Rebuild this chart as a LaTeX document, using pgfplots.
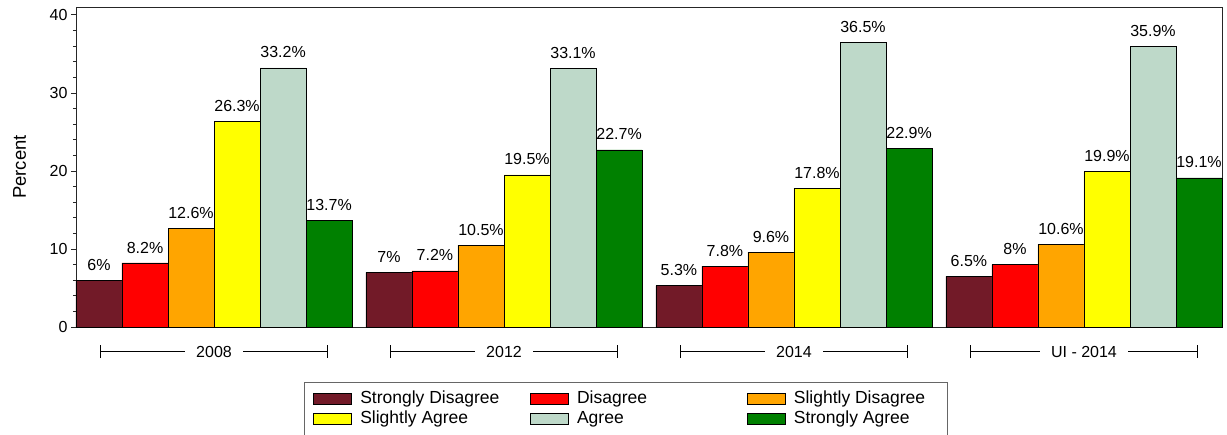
\documentclass[border=0pt]{standalone}
\usepackage{fontspec}
\setmainfont{Liberation Sans}
\usepackage{pgfplots}
\pgfplotsset{compat=1.18}
\usetikzlibrary{arrows.meta}

\definecolor{sdis}{HTML}{721A28}
\definecolor{dis}{HTML}{FF0000}
\definecolor{sldis}{HTML}{FFA500}
\definecolor{slagr}{HTML}{FFFF00}
\definecolor{agr}{HTML}{BED9C9}
\definecolor{sagr}{HTML}{008000}

\pgfplotsset{/pgf/number format/assume math mode=true}

\begin{document}
\begin{tikzpicture}
\begin{axis}[
    scale only axis,
    width=1146pt, height=320pt,
    xmin=-0.476, xmax=3.476,
    ymin=0, ymax=41,
    ybar=0pt,
    bar width=0.1587,
    xtick=\empty,
    ytick={0,10,20,30,40},
    minor y tick num=4,
    tick align=outside,
    ytick pos=left,
    major tick length=5pt,
    minor tick length=3pt,
    axis line style={black!85},
    every tick/.style={black!85, line width=0.6pt},
    ticklabel style={font=\fontsize{16}{18}\selectfont},
    ylabel={Percent},
    ylabel style={font=\fontsize{18.5}{20}\selectfont, at={(axis description cs:-0.0493,0.5)}, anchor=center},
    nodes near coords={\pgfmathprintnumber{\pgfplotspointmeta}\%},
    every node near coord/.append style={font=\fontsize{16}{18}\selectfont, anchor=south, inner sep=0pt, yshift=9.5pt, black},
    clip=false,
    legend columns=3,
    legend style={
        at={(axis description cs:0.199,-0.1719)}, anchor=north west,
        draw=black!60, line width=0.8pt,
        inner xsep=9pt, inner ysep=8pt,
        font=\fontsize{17.5}{19}\selectfont,
        nodes={inner sep=0pt, anchor=west, text height=13pt, text depth=4pt},
        row sep=3pt,
        /tikz/every odd column/.append style={column sep=8pt},
        /tikz/every even column/.append style={column sep=25pt},
    },
    legend image code/.code={\draw[#1, line width=0.8pt] (0pt,-5.5pt) rectangle (38pt,5.5pt);},
]
\addplot[draw=black, line width=0.6pt, fill=sdis]  coordinates {(0,6) (1,7) (2,5.3) (3,6.5)};
\addplot[draw=black, line width=0.6pt, fill=dis]   coordinates {(0,8.2) (1,7.2) (2,7.8) (3,8)};
\addplot[draw=black, line width=0.6pt, fill=sldis] coordinates {(0,12.6) (1,10.5) (2,9.6) (3,10.6)};
\addplot[draw=black, line width=0.6pt, fill=slagr] coordinates {(0,26.3) (1,19.5) (2,17.8) (3,19.9)};
\addplot[draw=black, line width=0.6pt, fill=agr]   coordinates {(0,33.2) (1,33.1) (2,36.5) (3,35.9)};
\addplot[draw=black, line width=0.6pt, fill=sagr]  coordinates {(0,13.7) (1,22.7) (2,22.9) (3,19.1)};
\legend{\makebox[145pt][l]{Strongly Disagree}, \makebox[145pt][l]{Disagree}, \makebox[145pt][l]{Slightly Disagree},
        \makebox[145pt][l]{Slightly Agree}, \makebox[145pt][l]{Agree}, \makebox[145pt][l]{Strongly Agree}}

% group brackets under the x axis
\draw[{Bar[width=13pt]}-{Bar[width=13pt]}, line width=0.8pt] (axis cs:-0.393,-3.16) -- (axis cs:0.393,-3.16);
\draw[{Bar[width=13pt]}-{Bar[width=13pt]}, line width=0.8pt] (axis cs:0.607,-3.16) -- (axis cs:1.393,-3.16);
\draw[{Bar[width=13pt]}-{Bar[width=13pt]}, line width=0.8pt] (axis cs:1.607,-3.16) -- (axis cs:2.393,-3.16);
\draw[{Bar[width=13pt]}-{Bar[width=13pt]}, line width=0.8pt] (axis cs:2.607,-3.16) -- (axis cs:3.393,-3.16);
\node[fill=white, inner xsep=11.5pt, inner ysep=2pt, font=\fontsize{16}{18}\selectfont] at (axis cs:0,-3.16) {2008};
\node[fill=white, inner xsep=11.5pt, inner ysep=2pt, font=\fontsize{16}{18}\selectfont] at (axis cs:1,-3.16) {2012};
\node[fill=white, inner xsep=11.5pt, inner ysep=2pt, font=\fontsize{16}{18}\selectfont] at (axis cs:2,-3.16) {2014};
\node[fill=white, inner xsep=11.5pt, inner ysep=2pt, font=\fontsize{16}{18}\selectfont] at (axis cs:3,-3.16) {UI - 2014};
\end{axis}
\pgfresetboundingbox
\path ([shift={(-76pt,-108pt)}]current axis.south west) rectangle ([shift={(5pt,7pt)}]current axis.north east);
\end{tikzpicture}
\end{document}
